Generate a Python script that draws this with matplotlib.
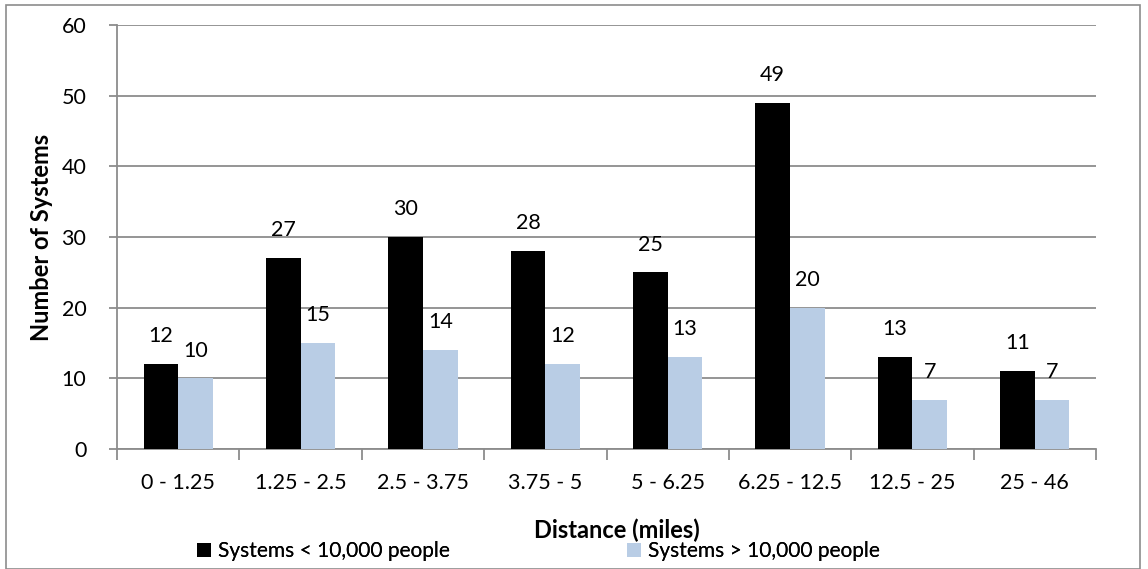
import matplotlib
matplotlib.use("Agg")
import matplotlib.pyplot as plt
from matplotlib.patches import Rectangle
import numpy as np

categories = ["0 - 1.25", "1.25 - 2.5", "2.5 - 3.75", "3.75 - 5",
              "5 - 6.25", "6.25 - 12.5", "12.5 - 25", "25 - 46"]
small_systems = [12, 27, 30, 28, 25, 49, 13, 11]
large_systems = [10, 15, 14, 12, 13, 20, 7, 7]
y_ticks = [0, 10, 20, 30, 40, 50, 60]

plt.rcParams['font.family'] = ['Lato', 'DejaVu Sans']

W, H, DPI = 1148, 569, 100
fig = plt.figure(figsize=(W / DPI, H / DPI), dpi=DPI)

# outer frame around the whole chart
fig.patches.append(Rectangle((6 / W, 0), (1140 - 6) / W, (H - 5) / H,
                             transform=fig.transFigure, fill=False,
                             edgecolor="#8c8c8c", linewidth=1.2))

ax = fig.add_axes([117 / W, 1 - 449 / H, (1096 - 117) / W, (449 - 25) / H])

x = np.arange(len(categories))
bw = 0.283
grey = "#8c8c8c"
light = "#b9cde5"

b1 = ax.bar(x - bw / 2, small_systems, bw, color="black", zorder=3,
            label="Systems < 10,000 people")
b2 = ax.bar(x + bw / 2, large_systems, bw, color=light, zorder=3,
            label="Systems > 10,000 people")

for bars, vals in ((b1, small_systems), (b2, large_systems)):
    for r, v in zip(bars, vals):
        ax.annotate(str(v), (r.get_x() + r.get_width() / 2, v),
                    xytext=(0, 20), textcoords="offset points",
                    ha="center", va="center", fontsize=15.5, color="black")

ax.set_xlim(-0.5, len(categories) - 0.5)
ax.set_ylim(0, 60)
ax.set_yticks(y_ticks)
ax.set_yticklabels([str(t) for t in y_ticks], fontsize=15.5)
ax.yaxis.grid(True, color=grey, linewidth=1.3, zorder=0)
ax.set_axisbelow(True)

# category labels centred, tick marks on category boundaries
ax.set_xticks(x)
ax.set_xticklabels(categories, fontsize=15.5)
ax.tick_params(axis="x", length=0, pad=17)
ax.set_xticks(np.arange(len(categories) + 1) - 0.5, minor=True)
ax.tick_params(axis="x", which="minor", length=8, width=1.3, color=grey,
               direction="out")
ax.tick_params(axis="y", length=6, width=1.3, color=grey, direction="out",
               pad=16)

for s in ("top", "right"):
    ax.spines[s].set_visible(False)
for s in ("left", "bottom"):
    ax.spines[s].set_color(grey)
    ax.spines[s].set_linewidth(1.3)

ax.set_ylabel("Number of Systems", fontsize=17, fontweight="bold", labelpad=6)
fig.text(617 / W, 1 - 530 / H, "Distance (miles)", ha="center", va="center",
         fontsize=17, fontweight="bold")

legend_y = 1 - 551 / H
for handle, left in ((b1, 197), (b2, 627)):
    lg = fig.legend(handles=[handle], loc="center left",
                    bbox_to_anchor=(left / W, legend_y), frameon=False,
                    fontsize=15, handlelength=0.65, handleheight=0.65,
                    handletextpad=0.35, borderpad=0, borderaxespad=0)
    fig.add_artist(lg)

fig.savefig("out.png", dpi=DPI)
